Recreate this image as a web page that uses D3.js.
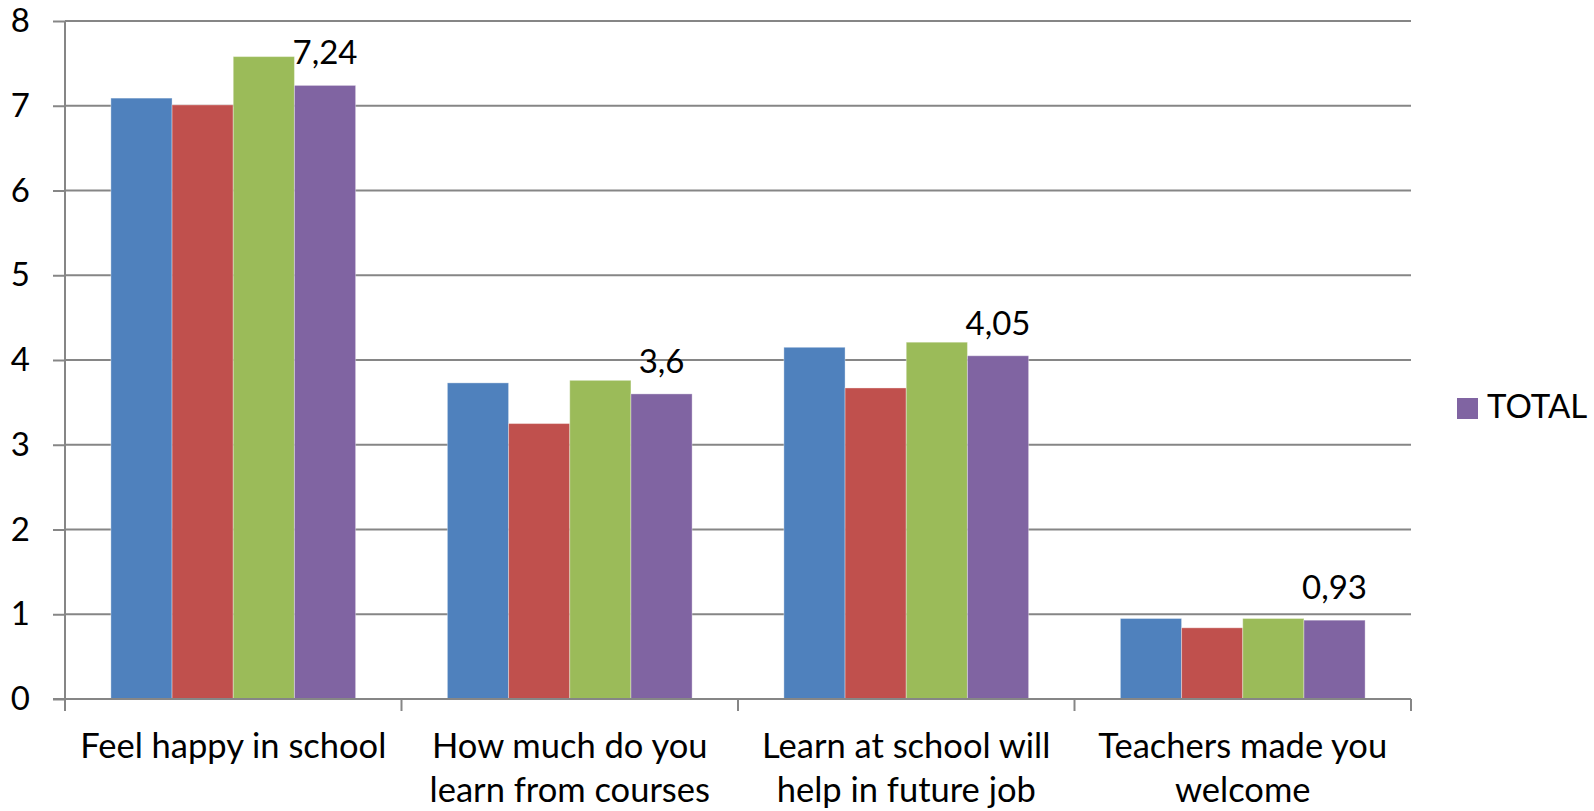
<!DOCTYPE html>
<html>
<head>
<meta charset="utf-8">
<script src="https://cdn.jsdelivr.net/npm/d3@7"></script>
<style>
  html, body { margin: 0; padding: 0; background: #fff; }
  svg text { font-family: Lato, "Open Sans", sans-serif; fill: #000; }
</style>
</head>
<body>
<div id="chart"></div>
<script>
// categories (explicit line breaks as in the original)
var categories = [
    "Feel happy in school",
    "How much do you\nlearn from courses",
    "Learn at school will\nhelp in future job",
    "Teachers made you\nwelcome"
];
var seriesNames = ["", "", "", "TOTAL"];
var seriesColors = ["#4F81BD", "#C0504D", "#9BBB59", "#8064A2"];

var series1 = [7.09, 3.73, 4.15, 0.95];
var series2 = [7.01, 3.25, 3.67, 0.84];
var series3 = [7.58, 3.76, 4.21, 0.95];
var total   = [7.24, 3.60, 4.05, 0.93];

var yTicks = [0, 1, 2, 3, 4, 5, 6, 7, 8];

var allSeries = [series1, series2, series3, total];

var width = 1594, height = 811;
var margin = {left: 65, right: 183, top: 21, bottom: 112};
var fontSize = 33;
var catFontSize = 34.5;

var svg = d3.select("#chart").append("svg")
    .attr("width", width).attr("height", height);

var x0 = d3.scaleBand()
    .domain(categories)
    .range([margin.left, width - margin.right])
    .padding(0);

var x1 = d3.scaleBand()
    .domain(d3.range(allSeries.length))
    .range([0, x0.bandwidth()])
    .paddingInner(0)
    .paddingOuter(0.75);

var y = d3.scaleLinear()
    .domain([0, 8])
    .range([height - margin.bottom, margin.top]);

var axisColor = "#868686";

// gridlines
svg.append("g").selectAll("line")
    .data(yTicks.slice(1))
    .enter().append("line")
    .attr("x1", margin.left).attr("x2", width - margin.right)
    .attr("y1", function(d){ return y(d); })
    .attr("y2", function(d){ return y(d); })
    .attr("stroke", axisColor)
    .attr("stroke-width", 2);

// bars
var groups = svg.append("g").selectAll("g")
    .data(categories)
    .enter().append("g")
    .attr("transform", function(c){ return "translate(" + x0(c) + ",0)"; });

groups.selectAll("rect")
    .data(function(c, i){
        return allSeries.map(function(s, j){ return {s: j, v: s[i]}; });
    })
    .enter().append("rect")
    .attr("x", function(d){ return x1(d.s); })
    .attr("width", x1.bandwidth())
    .attr("y", function(d){ return y(d.v); })
    .attr("height", function(d){ return y(0) - y(d.v); })
    .attr("fill", function(d){ return seriesColors[d.s]; })
    .attr("stroke", "rgba(255,255,255,0.35)")
    .attr("stroke-width", 1);

// y axis
var yAxis = d3.axisLeft(y).tickValues(yTicks).tickSize(12).tickPadding(23)
    .tickFormat(d3.format("d"));
var yg = svg.append("g")
    .attr("transform", "translate(" + margin.left + ",0)")
    .call(yAxis);
yg.select(".domain").remove();
yg.selectAll(".tick line").attr("stroke", axisColor).attr("stroke-width", 2);
yg.selectAll(".tick text")
    .style("font-family", "Lato, 'Open Sans', sans-serif")
    .attr("font-size", fontSize).attr("fill", "#000");

svg.append("line")
    .attr("x1", margin.left).attr("x2", margin.left)
    .attr("y1", y(8)).attr("y2", y(0) + 12)
    .attr("stroke", axisColor).attr("stroke-width", 2);

// x axis
svg.append("line")
    .attr("x1", margin.left - 12).attr("x2", width - margin.right)
    .attr("y1", y(0)).attr("y2", y(0))
    .attr("stroke", axisColor).attr("stroke-width", 2);

var bounds = categories.map(function(c){ return x0(c); }).concat([width - margin.right]);
svg.append("g").selectAll("line")
    .data(bounds)
    .enter().append("line")
    .attr("x1", function(d){ return d; }).attr("x2", function(d){ return d; })
    .attr("y1", y(0)).attr("y2", y(0) + 12)
    .attr("stroke", axisColor).attr("stroke-width", 2);

// category labels
var catText = svg.append("g").selectAll("text")
    .data(categories)
    .enter().append("text")
    .attr("text-anchor", "middle")
    .attr("font-size", catFontSize)
    .attr("transform", function(c){
        return "translate(" + (x0(c) + x0.bandwidth() / 2) + "," + (y(0) + 59) + ")";
    });
catText.selectAll("tspan")
    .data(function(c){ return c.split("\n"); })
    .enter().append("tspan")
    .attr("x", 0)
    .attr("y", function(d, i){ return i * 43.5; })
    .text(function(d){ return d; });

// data labels on TOTAL
var fmt = function(v){ return d3.format("~g")(v).replace(".", ","); };
svg.append("g").selectAll("text")
    .data(total)
    .enter().append("text")
    .attr("text-anchor", "middle")
    .attr("font-size", fontSize)
    .attr("x", function(d, i){ return x0(categories[i]) + x1(3) + x1.bandwidth() / 2; })
    .attr("y", function(d){ return y(d) - 21; })
    .text(fmt);

// legend (only named series)
var legendItems = seriesNames
    .map(function(n, i){ return {name: n, color: seriesColors[i]}; })
    .filter(function(d){ return d.name !== ""; });

var legend = svg.append("g").selectAll("g")
    .data(legendItems)
    .enter().append("g")
    .attr("transform", function(d, i){ return "translate(1457," + (398 + i * 40) + ")"; });
legend.append("rect")
    .attr("width", 21).attr("height", 21)
    .attr("fill", function(d){ return d.color; });
legend.append("text")
    .attr("x", 30).attr("y", 20)
    .attr("font-size", fontSize)
    .text(function(d){ return d.name; });
</script>
</body>
</html>
